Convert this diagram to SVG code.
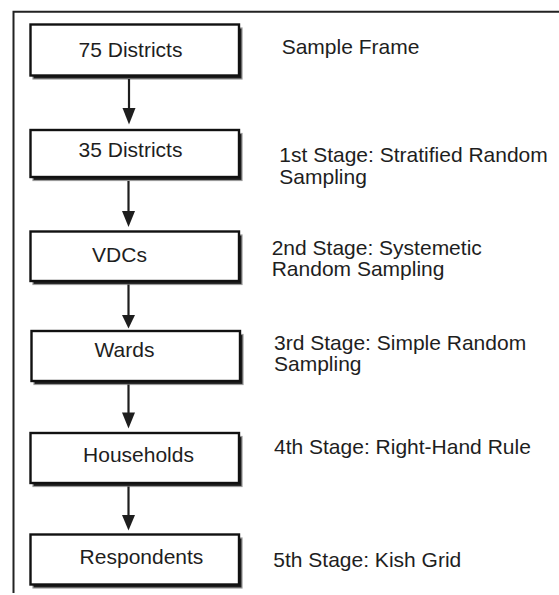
<svg xmlns="http://www.w3.org/2000/svg" width="559" height="595" viewBox="0 0 559 595">
<defs>
<style>
.shadow{fill:#1e1e1e;stroke:#9a9a9a;stroke-width:1.2}
.box{fill:#ffffff;stroke:#111111;stroke-width:2.4}
.t{font-family:"Liberation Sans",Arial,sans-serif;font-size:21px;fill:#1e1e1e}
.c{text-anchor:middle}
.conn line{stroke:#1e1e1e;stroke-width:2.2}
.conn polygon{fill:#1e1e1e}
.frame{fill:none;stroke:#222222;stroke-width:2}
</style>
</defs>
<rect width="559" height="595" fill="#ffffff"/>
<polyline class="frame" points="13.5,593 13.5,11.7 559,11.7"/>

<g id="n1">
<rect class="shadow" x="33" y="28" width="209" height="51"/>
<rect class="box" x="30.5" y="24.5" width="208.5" height="51"/>
<text class="t c" x="130.5" y="57">75 Districts</text>
</g>
<g id="n2">
<rect class="shadow" x="33" y="133.5" width="209" height="47"/>
<rect class="box" x="30.5" y="130" width="208.5" height="47"/>
<text class="t c" x="130.5" y="157.3">35 Districts</text>
</g>
<g id="n3">
<rect class="shadow" x="33" y="235" width="209" height="49.5"/>
<rect class="box" x="30.5" y="231.5" width="208.5" height="49.5"/>
<text class="t c" x="119.5" y="261.7">VDCs</text>
</g>
<g id="n4">
<rect class="shadow" x="34" y="334.5" width="209" height="50"/>
<rect class="box" x="31.5" y="331" width="208.5" height="50"/>
<text class="t c" x="124.5" y="356.7">Wards</text>
</g>
<g id="n5">
<rect class="shadow" x="33" y="436.5" width="209" height="50"/>
<rect class="box" x="30.5" y="433" width="208.5" height="50"/>
<text class="t c" x="138.5" y="462">Households</text>
</g>
<g id="n6">
<rect class="shadow" x="33" y="538" width="209" height="50"/>
<rect class="box" x="30.5" y="534.5" width="208.5" height="50"/>
<text class="t c" x="141.5" y="564.3">Respondents</text>
</g>

<g id="connectors" class="conn">
<line x1="129" y1="79" x2="129" y2="110"/>
<polygon points="122.5,108 135.5,108 129,124.5"/>
<line x1="128.5" y1="181" x2="128.5" y2="213"/>
<polygon points="122,211 135,211 128.5,227"/>
<line x1="128.5" y1="284.5" x2="128.5" y2="317"/>
<polygon points="122,315 135,315 128.5,328.5"/>
<line x1="128.5" y1="384.5" x2="128.5" y2="414"/>
<polygon points="122,412.5 135,412.5 128.5,428.5"/>
<line x1="128.5" y1="486.5" x2="128.5" y2="517"/>
<polygon points="122,515 135,515 128.5,530.5"/>
</g>

<g id="labels">
<text class="t" x="281.7" y="54">Sample Frame</text>
<text class="t" x="279.3" y="162">1st Stage: Stratified Random</text>
<text class="t" x="279.3" y="183.5">Sampling</text>
<text class="t" x="271.7" y="254.5">2nd Stage: Systemetic</text>
<text class="t" x="271.7" y="276">Random Sampling</text>
<text class="t" x="274" y="349.5">3rd Stage: Simple Random</text>
<text class="t" x="274" y="371">Sampling</text>
<text class="t" x="274" y="454">4th Stage: Right-Hand Rule</text>
<text class="t" x="273.3" y="566.7">5th Stage: Kish Grid</text>
</g>
</svg>
